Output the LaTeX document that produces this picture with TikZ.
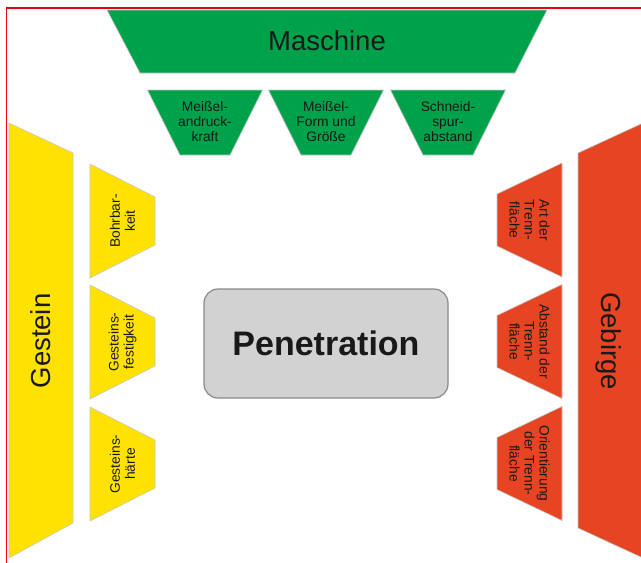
\documentclass[tikz,border=0pt]{standalone}
\usepackage{fontspec}
\setmainfont{Liberation Sans}
\definecolor{mgreen}{HTML}{00A14B}
\definecolor{myellow}{HTML}{FFE200}
\definecolor{mred}{HTML}{E64422}
\definecolor{pgray}{HTML}{D2D2D2}
\definecolor{pborder}{HTML}{8A8A8A}
\definecolor{frame}{HTML}{E30613}
\tikzset{
  shapefill/.style={draw=black!22, line width=0.6pt},
  bigtext/.style={font=\fontsize{27.5}{31}\selectfont, text=black!90, inner sep=0pt},
  smalltext/.style={font=\fontsize{13.8}{15}\selectfont, text=black!90, align=center, inner sep=0pt},
}
\begin{document}
\begin{tikzpicture}[x=1pt,y=-1pt]
\useasboundingbox (0,0) rectangle (641,563);
\fill[white] (0,0) rectangle (641,563);
% frame
\draw[frame, line width=1.4pt] (641,8) -- (6.5,8) -- (6.5,563);

% Maschine
\fill[mgreen, shapefill] (107,10) -- (547,10) -- (515,73) -- (140,73) -- cycle;
\node[bigtext] (maschine) at (327,41) {Maschine};

% small green
\foreach \cx/\nm/\txt in {205/m1/{Meißel-\\andruck-\\kraft}, 326/m2/{Meißel-\\Form und\\Größe}, 448/m3/{Schneid-\\spur-\\abstand}}{
  \fill[mgreen, shapefill] (\cx-57.5,90) -- (\cx+57.5,90) -- (\cx+25,155) -- (\cx-25,155) -- cycle;
  \node[smalltext] (\nm) at (\cx,122) {\txt};
}

% Gestein
\fill[myellow, shapefill] (9,123) -- (73,153) -- (73,523) -- (9,558) -- cycle;
\node[bigtext, rotate=90] (gestein) at (41,341) {Gestein};

% small yellow
\foreach \cy/\nm/\txt in {221/g1/{Bohrbar-\\keit}, 342/g2/{Gesteins-\\festigkeit}, 464/g3/{Gesteins-\\härte}}{
  \fill[myellow, shapefill] (90,\cy-57) -- (155,\cy-24) -- (155,\cy+24) -- (90,\cy+57) -- cycle;
  \node[smalltext, rotate=90] (\nm) at (122.5,\cy) {\txt};
}

% Gebirge
\fill[mred, shapefill] (643,123) -- (578,153) -- (578,528) -- (643,558) -- cycle;
\node[bigtext, rotate=-90] (gebirge) at (609,341) {Gebirge};

% small red
\foreach \cy/\nm/\txt in {220/r1/{Art der\\Trenn-\\fläche}, 341.5/r2/{Abstand der\\Trenn-\\fläche}, 463.5/r3/{Orientierung\\der Trenn-\\fläche}}{
  \fill[mred, shapefill] (562,\cy-57) -- (497,\cy-26) -- (497,\cy+26) -- (562,\cy+57) -- cycle;
  \node[smalltext, rotate=-90] (\nm) at (529.5,\cy) {\txt};
}

% Penetration
\node[draw=pborder, fill=pgray, line width=1.2pt, rounded corners=14pt,
      minimum width=244pt, minimum height=109pt, inner sep=0pt,
      font=\fontsize{34}{38}\selectfont\bfseries, text=black!90] (pen) at (326,343.5) {Penetration};
\end{tikzpicture}
\end{document}
